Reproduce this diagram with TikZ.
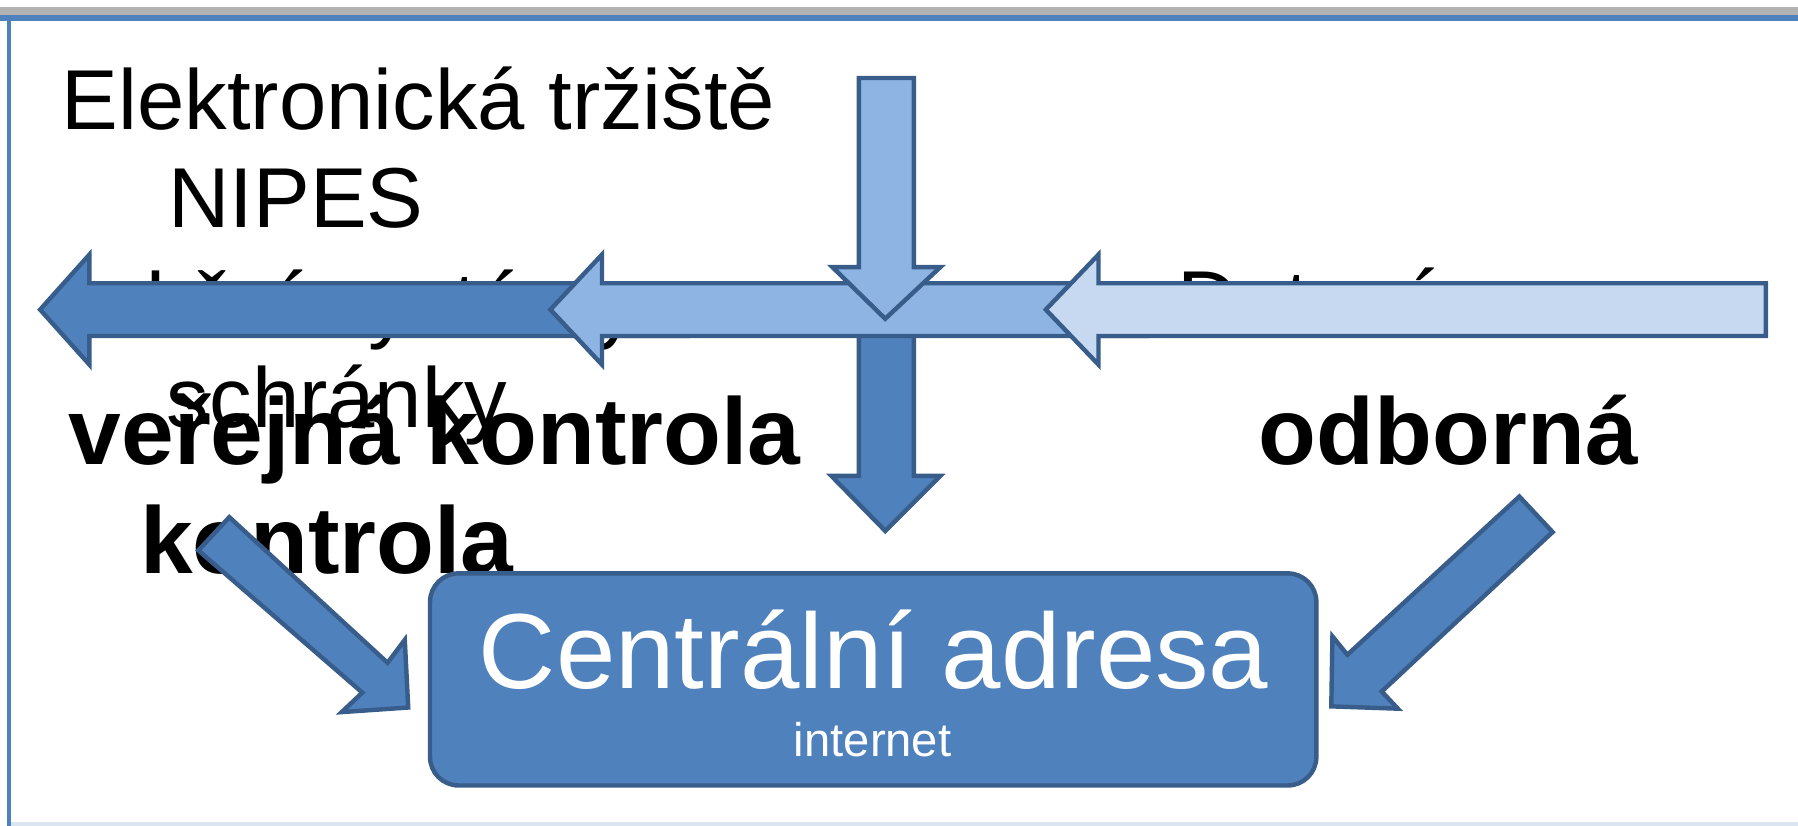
\documentclass[tikz,border=0pt]{standalone}
\usepackage{fontspec}
\setmainfont{Liberation Sans}

\definecolor{darkblue}{HTML}{4F81BD}
\definecolor{midblue}{HTML}{8EB4E3}
\definecolor{paleblue}{HTML}{C6D9F1}
\definecolor{edgeblue}{HTML}{385D8A}
\definecolor{framegray}{HTML}{DBE5F1}

\begin{document}
\begin{tikzpicture}[x=0.1mm, y=-0.1mm, line join=miter,
  block/.style={draw=edgeblue, line width=1.1pt},
  plain text/.style={anchor=base, inner sep=0pt, font=\fontsize{21.1}{25}\selectfont},
  bold text/.style={anchor=base, inner sep=0pt, font=\fontsize{23.5}{27}\selectfont\bfseries},
  main box/.style={draw=edgeblue, fill=darkblue, line width=1.1pt, rounded corners=2.5mm, minimum width=77.3mm, minimum height=18.5mm, inner sep=0pt}]

        \useasboundingbox (0,0) rectangle (1568,720);

        % Frame
        \fill[gray!60] (0,6) rectangle (1568,13);
        \fill[darkblue] (0,13) rectangle (1568,18);
        \fill[darkblue] (6,13) rectangle (10,720);
        \fill[framegray] (10,717) rectangle (1568,720);

        % Texts
        \node[plain text] (trziste) at (365,113) {Elektronická tržiště};
        \node[plain text] (nipes) at (258,198) {NIPES};
        \node[plain text] (aukce) at (301,290) {aukční systémy};
        \node[plain text] (schranky) at (294,373) {schránky};
        \node[plain text, anchor=base west] (datova) at (1026,288) {Datová};
        \node[bold text] (verejna) at (379,405) {veřejná kontrola};
        \node[bold text] (kontrola) at (285,500) {kontrola};
        \node[bold text] (odborna) at (1263,405) {odborná};

        % Central box
        \node[main box] (adresa) at (761.5,592.5) {};
        \node[plain text, text=white, font=\fontsize{26.5}{30}\selectfont] (nazev) at (762,600) {Centrální adresa};
        \node[plain text, text=white, font=\fontsize{11.7}{14}\selectfont] (net) at (761,660) {internet};

        % Arrows
        \draw[block, fill=darkblue] (749,260) -- (797,260) -- (797,415) -- (820,415) -- (772,463) -- (725,415) -- (749,415) -- cycle;

        \foreach \tip/\base/\tail/\col in {35/78/600/darkblue, 480/525/1000/midblue, 912/958/1540/paleblue} {
            \draw[block, fill=\col] (\tip,270) -- (\base,222) -- (\base,247) -- (\tail,247) -- (\tail,293) -- (\base,293) -- (\base,318) -- cycle;
        }

        \draw[block, fill=midblue] (749,68) -- (797,68) -- (797,233) -- (820,233) -- (772,278) -- (726,233) -- (749,233) -- cycle;

        \draw[block, fill=darkblue] (200,451) -- (338,578) -- (353,558) -- (356,617) -- (298,621) -- (316,604) -- (173,480) -- cycle;
        \draw[block, fill=darkblue] (1325,433) -- (1354,464) -- (1205,603) -- (1219,618) -- (1161,616) -- (1162,555) -- (1175,571) -- cycle;
    \end{tikzpicture}
\end{document}
